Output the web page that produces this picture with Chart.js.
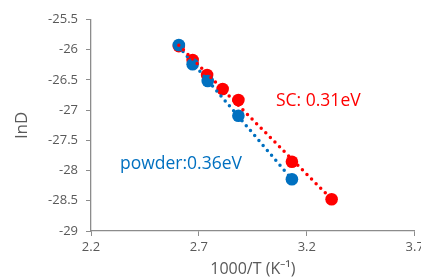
<!DOCTYPE html>
<html>
<head>
<meta charset="utf-8">
<script src="https://cdn.jsdelivr.net/npm/chart.js@4"></script>
<style>
  html, body { margin: 0; padding: 0; background: #fff; overflow: hidden; }
  #wrap { width: 421px; height: 279px; }
</style>
</head>
<body>
<div id="wrap"><canvas id="chart1" width="421" height="279"></canvas></div>
<script>
// values
var scX = [2.607, 2.671, 2.738, 2.810, 2.883, 3.131, 3.315];
var scY = [-25.94, -26.17, -26.418, -26.65, -26.832, -27.853, -28.475];
var powderX = [2.607, 2.671, 2.741, 2.883, 3.131];
var powderY = [-25.922, -26.241, -26.518, -27.092, -28.144];
var xTicks = [2.2, 2.7, 3.2, 3.7];
var yMin = -29, yMax = -25.5;

var red = '#FF0000';
var blue = '#0070C0';
var grey = '#595959';
var axisGrey = '#8C8C8C';

function pts(xs, ys) {
  return xs.map(function (x, i) { return { x: x, y: ys[i] }; });
}

// linear trendline (least squares) over the data range, like excel
function trend(xs, ys) {
  var n = xs.length, sx = 0, sy = 0, sxx = 0, sxy = 0;
  for (var i = 0; i < n; i++) {
    sx += xs[i]; sy += ys[i]; sxx += xs[i] * xs[i]; sxy += xs[i] * ys[i];
  }
  var m = (n * sxy - sx * sy) / (n * sxx - sx * sx);
  var b = (sy - m * sx) / n;
  var x0 = Math.min.apply(null, xs), x1 = Math.max.apply(null, xs);
  return [{ x: x0, y: m * x0 + b }, { x: x1, y: m * x1 + b }];
}

var labelsPlugin = {
  id: 'notes',
  afterDatasetsDraw: function (chart) {
    var c = chart.ctx;
    c.save();
    c.font = '17.5px "Open Sans"';
    c.textBaseline = 'alphabetic';
    c.fillStyle = red;
    c.fillText('SC: 0.31eV', 276, 106);
    c.fillStyle = blue;
    c.fillText('powder:0.36eV', 120, 169);
    c.restore();
  }
};

var dotted = {
  type: 'line',
  showLine: true,
  borderWidth: 3.5,
  borderDash: [0, 6.5],
  borderCapStyle: 'round',
  pointRadius: 0,
  fill: false
};

const ctx = document.getElementById('chart1');
const chart1 = new Chart(ctx, {
  type: 'scatter',
  data: {
    datasets: [
      Object.assign({}, dotted, { label: 'SC trend', data: trend(scX, scY), borderColor: red }),
      Object.assign({}, dotted, { label: 'powder trend', data: trend(powderX, powderY), borderColor: blue }),
      {
        label: 'powder',
        data: pts(powderX, powderY),
        backgroundColor: blue,
        borderColor: blue,
        pointRadius: 6.3,
        borderWidth: 0
      },
      {
        label: 'SC',
        data: pts(scX, scY),
        backgroundColor: red,
        borderColor: red,
        pointRadius: 6.3,
        borderWidth: 0
      }
    ]
  },
  options: {
    responsive: false,
    animation: false,
    layout: { padding: { left: 0, right: 6, top: 19.5, bottom: 0 } },
    plugins: {
      legend: { display: false },
      tooltip: { enabled: false }
    },
    scales: {
      x: {
        type: 'linear',
        min: 2.2,
        max: 3.7,
        afterBuildTicks: function (s) { s.ticks = xTicks.map(function (v) { return { value: v }; }); },
        afterFit: function (s) { s.paddingLeft = 0; s.paddingRight = 0; s.height = 48; },
        grid: { drawOnChartArea: false, drawTicks: true, tickLength: 5, color: axisGrey },
        border: { color: axisGrey, width: 1.3 },
        ticks: {
          color: grey,
          font: { family: 'Open Sans', size: 13 },
          padding: 3,
          maxRotation: 0,
          callback: function (v) { return String(v); }
        },
        title: {
          display: true,
          text: '1000/T (K\u207B\u00B9)',
          color: grey,
          font: { family: 'Open Sans', size: 16 },
          padding: { top: 0, bottom: 0 }
        }
      },
      y: {
        min: yMin,
        max: yMax,
        ticks: {
          stepSize: 0.5,
          color: grey,
          font: { family: 'Open Sans', size: 13 },
          padding: 8,
          callback: function (v) { return String(v); }
        },
        afterFit: function (s) { s.paddingTop = 0; s.paddingBottom = 0; s.width = 91; },
        grid: { drawOnChartArea: false, drawTicks: true, tickLength: 5, color: axisGrey },
        border: { color: axisGrey, width: 1.3 },
        title: {
          display: true,
          text: 'lnD',
          color: grey,
          font: { family: 'Open Sans', size: 17 },
          padding: { top: 12, bottom: 0 }
        }
      }
    }
  },
  plugins: [labelsPlugin]
});
</script>
</body>
</html>
